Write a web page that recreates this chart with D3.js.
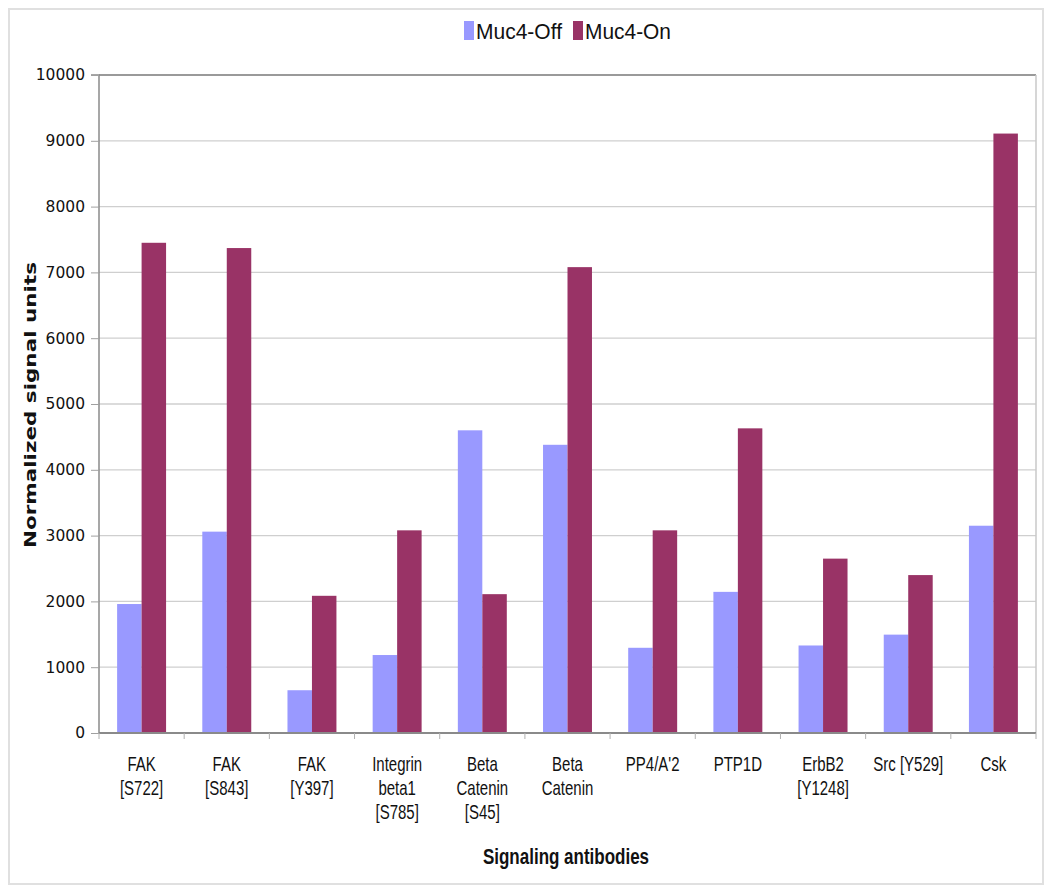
<!DOCTYPE html>
<html><head><meta charset="utf-8">
<script src="https://cdn.jsdelivr.net/npm/d3@7"></script>
<style>body{margin:0;background:#fff}svg{display:block}</style>
</head><body>
<script>
const categories = [
  ["FAK","[S722]"],["FAK","[S843]"],["FAK","[Y397]"],["Integrin","beta1","[S785]"],
  ["Beta","Catenin","[S45]"],["Beta","Catenin"],["PP4/A'2"],["PTP1D"],
  ["ErbB2","[Y1248]"],["Src [Y529]"],["Csk"]
];
const seriesNames = ["Muc4-Off","Muc4-On"];
const muc4Off = [1960, 3060, 650, 1185, 4600, 4380, 1295, 2145, 1330, 1495, 3150];
const muc4On  = [7450, 7370, 2085, 3080, 2110, 7080, 3080, 4630, 2650, 2400, 9110];
const yTicks = [0,1000,2000,3000,4000,5000,6000,7000,8000,9000,10000];
const colors = ["#9999ff","#993366"];

const W=1050,H=889;
const svg=d3.select("body").append("svg").attr("width",W).attr("height",H);
svg.append("rect").attr("x",9).attr("y",9).attr("width",1034).attr("height",875)
  .attr("fill","#fff").attr("stroke","#e0e0e0").attr("stroke-width",2);

const L=99,R=1036,T=75,B=733;
const catKeys=categories.map((c,i)=>i);
const x0=d3.scaleBand().domain(catKeys).range([L,R]).padding(0);
const x1=d3.scaleBand().domain(seriesNames).range([0,x0.bandwidth()]).paddingInner(0).paddingOuter(0.74);
const y=d3.scaleLinear().domain([0,10000]).range([B,T]);

svg.append("g").selectAll("line").data(yTicks.filter(t=>t>0)).join("line")
  .attr("x1",L).attr("x2",R).attr("y1",d=>y(d)).attr("y2",d=>y(d))
  .attr("stroke",d=>d===10000?"#9a9a9a":"#cfcfcf").attr("stroke-width",d=>d===10000?2:1.3);
svg.append("line").attr("x1",R).attr("x2",R).attr("y1",T).attr("y2",B).attr("stroke","#c8c8c8").attr("stroke-width",1.5);

const data=categories.map((c,i)=>({i,vals:[muc4Off[i],muc4On[i]]}));
const g=svg.append("g").selectAll("g").data(data).join("g").attr("transform",d=>`translate(${x0(d.i)},0)`);
g.selectAll("rect").data(d=>d.vals.map((v,k)=>({k,v}))).join("rect")
  .attr("x",d=>x1(seriesNames[d.k])).attr("width",x1.bandwidth())
  .attr("y",d=>y(d.v)).attr("height",d=>B-y(d.v))
  .attr("fill",d=>colors[d.k]);

const yAxis=d3.axisLeft(y).tickValues(yTicks).tickFormat(d3.format("d")).tickSize(8).tickPadding(6);
const ya=svg.append("g").attr("transform",`translate(${L},0)`).call(yAxis);
ya.select(".domain").attr("stroke","#8a8a8a").attr("stroke-width",1.5).attr("d",`M-8,${T}H0V${B}`);
ya.selectAll(".tick line").attr("stroke","#a0a0a0");
ya.selectAll(".tick text").attr("font-family","'DejaVu Sans',Verdana,sans-serif").attr("font-size",15.5).attr("fill","#111");

svg.append("line").attr("x1",L).attr("x2",R).attr("y1",B).attr("y2",B).attr("stroke","#8a8a8a").attr("stroke-width",2);
svg.append("g").selectAll("line").data(d3.range(categories.length+1)).join("line")
  .attr("x1",d=>L+d*x0.step()).attr("x2",d=>L+d*x0.step()).attr("y1",B).attr("y2",B+6)
  .attr("stroke","#b0b0b0");

const xl=svg.append("g").selectAll("text").data(categories).join("text")
  .attr("font-family","'Liberation Sans',Arial,sans-serif").attr("font-size",15).attr("fill","#111")
  .attr("text-anchor","middle")
  .attr("transform",(d,i)=>`translate(${x0(i)+x0.bandwidth()/2},771) scale(1,1.4)`);
xl.selectAll("tspan").data(d=>d).join("tspan").attr("x",0).attr("y",(d,j)=>j*17).text(d=>d);

svg.append("text").attr("font-family","'Liberation Sans',Arial,sans-serif").attr("font-weight","bold")
  .attr("font-size",17).attr("text-anchor","middle").attr("fill","#111")
  .attr("transform","translate(566,864) scale(1,1.3)").text("Signaling antibodies");
svg.append("text").attr("font-family","'DejaVu Sans',Verdana,sans-serif").attr("font-weight","bold")
  .attr("font-size",15).attr("text-anchor","middle").attr("fill","#111")
  .attr("textLength",286).attr("lengthAdjust","spacingAndGlyphs")
  .attr("transform","translate(36,405) rotate(-90)").text("Normalized signal units");

const leg=svg.append("g");
const legX=[464,573];
seriesNames.forEach((s,k)=>{
  leg.append("rect").attr("x",legX[k]).attr("y",21).attr("width",10).attr("height",19).attr("fill",colors[k]);
  leg.append("text").attr("font-family","'Liberation Sans',Arial,sans-serif").attr("font-size",18)
    .attr("fill","#111").attr("textLength",86).attr("lengthAdjust","spacingAndGlyphs")
    .attr("transform",`translate(${legX[k]+12},39) scale(1,1.2)`).text(s);
});
</script>
</body></html>
